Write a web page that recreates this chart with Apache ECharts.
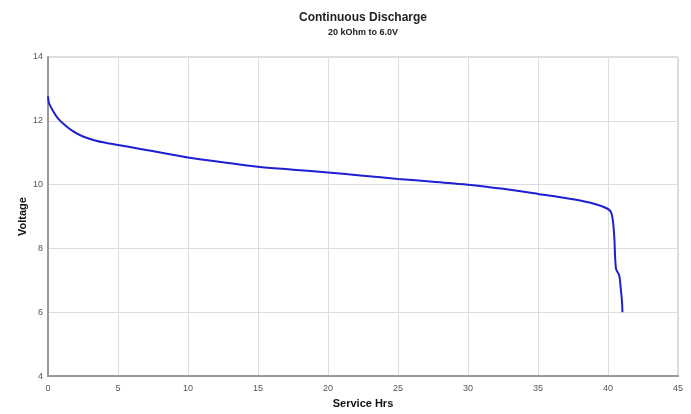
<!DOCTYPE html>
<html>
<head>
<meta charset="utf-8">
<script src="https://cdn.jsdelivr.net/npm/echarts@6/dist/echarts.min.js"></script>
<style>html,body{margin:0;padding:0;background:#fff;}#c{width:691px;height:414px;}</style>
</head>
<body>
<div id="c"></div>
<script>
var hours = [0, 0.07, 0.36, 0.71, 1.2, 1.8, 2.5, 3.5, 4.9, 6.6, 8.5, 10, 12.5, 15, 17.5, 20, 22.5, 25, 27.5, 30, 32.5, 35, 37.5, 39, 39.9, 40.2, 40.35, 40.45, 40.57, 40.8, 40.9, 41.0, 41.03];
var voltage = [12.77, 12.56, 12.31, 12.08, 11.87, 11.67, 11.51, 11.37, 11.25, 11.12, 10.97, 10.85, 10.7, 10.56, 10.47, 10.38, 10.28, 10.18, 10.09, 10.0, 9.87, 9.71, 9.54, 9.4, 9.26, 9.15, 8.87, 8.35, 7.37, 7.16, 6.8, 6.33, 6.0];
var titleText = 'Continuous Discharge';
var subtitleText = '20 kOhm to 6.0V';
var xName = 'Service Hrs';
var yName = 'Voltage';

var pts = hours.map(function (h, i) { return [h, voltage[i]]; });
var chart = echarts.init(document.getElementById('c'));
var font = 'Liberation Sans, Arial, sans-serif';
chart.setOption({
  animation: false,
  title: {
    text: titleText,
    subtext: subtitleText,
    left: 358,
    textAlign: 'center',
    top: 7,
    itemGap: 4,
    textStyle: { fontFamily: font, fontSize: 12, fontWeight: 'bold', color: '#222' },
    subtextStyle: { fontFamily: font, fontSize: 9, fontWeight: 'bold', color: '#222' }
  },
  grid: { left: 48, right: 13, top: 57, bottom: 33, show: true, borderColor: '#bbb', borderWidth: 1 },
  xAxis: {
    type: 'value', min: 0, max: 45, interval: 5,
    name: xName, nameLocation: 'middle', nameGap: 21,
    nameTextStyle: { fontFamily: font, fontSize: 11, fontWeight: 'bold', color: '#111' },
    axisLine: { show: true, lineStyle: { color: '#999', width: 2 } },
    axisTick: { show: false },
    axisLabel: { fontFamily: font, fontSize: 9, color: '#555', margin: 8 },
    splitLine: { show: true, lineStyle: { color: '#ddd', width: 1 } }
  },
  yAxis: {
    type: 'value', min: 4, max: 14, interval: 2,
    name: yName, nameLocation: 'middle', nameGap: 20, nameMoveOverlap: false,
    nameTextStyle: { fontFamily: font, fontSize: 11, fontWeight: 'bold', color: '#111' },
    axisLine: { show: true, lineStyle: { color: '#999', width: 2 } },
    axisTick: { show: false },
    axisLabel: { fontFamily: font, fontSize: 9, color: '#555', margin: 5 },
    splitLine: { show: true, lineStyle: { color: '#ddd', width: 1 } }
  },
  series: [{
    type: 'line',
    data: pts,
    smooth: 0.3,
    showSymbol: false,
    lineStyle: { color: '#1f1fd2', width: 2 }
  }]
});
</script>
</body>
</html>
